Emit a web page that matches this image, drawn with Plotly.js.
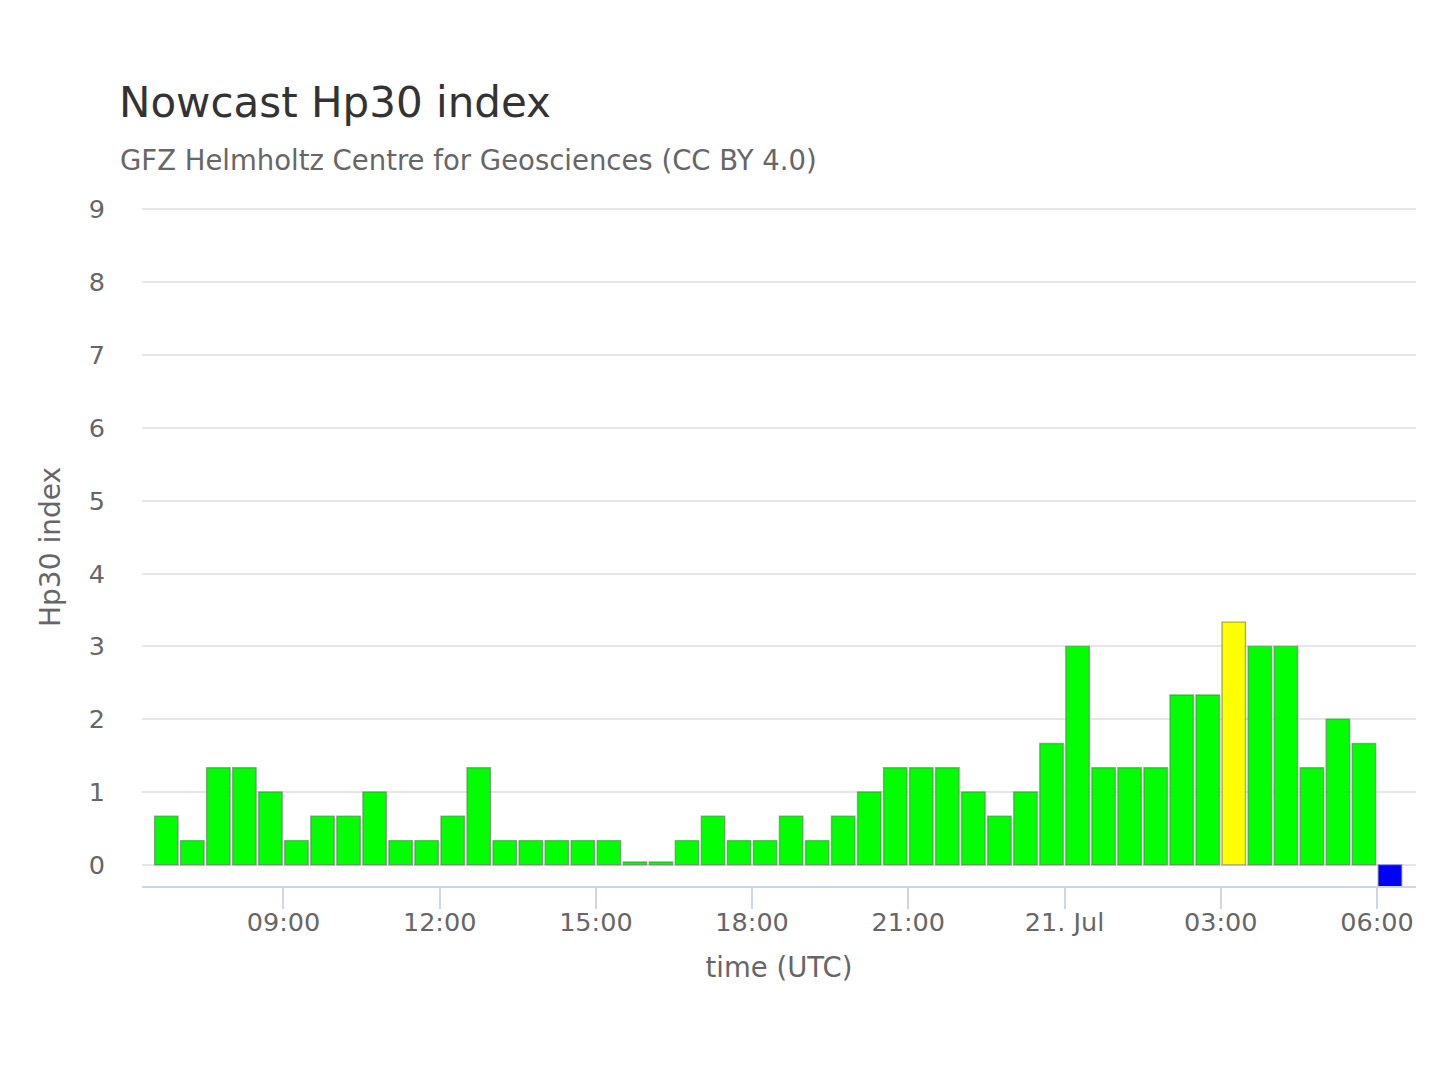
<!DOCTYPE html>
<html>
<head>
<meta charset="utf-8">
<script src="https://cdn.plot.ly/plotly-3.0.1.min.js"></script>
<style>
html,body{margin:0;padding:0;background:#fff}
#chart{width:1440px;height:1080px}
</style>
</head>
<body>
<div id="chart"></div>
<script>
// start of each 30 minute interval (UTC)
let times=[
"2025-07-20 06:30","2025-07-20 07:00","2025-07-20 07:30","2025-07-20 08:00",
"2025-07-20 08:30","2025-07-20 09:00","2025-07-20 09:30","2025-07-20 10:00",
"2025-07-20 10:30","2025-07-20 11:00","2025-07-20 11:30","2025-07-20 12:00",
"2025-07-20 12:30","2025-07-20 13:00","2025-07-20 13:30","2025-07-20 14:00",
"2025-07-20 14:30","2025-07-20 15:00","2025-07-20 15:30","2025-07-20 16:00",
"2025-07-20 16:30","2025-07-20 17:00","2025-07-20 17:30","2025-07-20 18:00",
"2025-07-20 18:30","2025-07-20 19:00","2025-07-20 19:30","2025-07-20 20:00",
"2025-07-20 20:30","2025-07-20 21:00","2025-07-20 21:30","2025-07-20 22:00",
"2025-07-20 22:30","2025-07-20 23:00","2025-07-20 23:30","2025-07-21 00:00",
"2025-07-21 00:30","2025-07-21 01:00","2025-07-21 01:30","2025-07-21 02:00",
"2025-07-21 02:30","2025-07-21 03:00","2025-07-21 03:30","2025-07-21 04:00",
"2025-07-21 04:30","2025-07-21 05:00","2025-07-21 05:30","2025-07-21 06:00"
]

let hp30=[
0.667,0.333,1.333,1.333,1.0,0.333,0.667,0.667,
1.0,0.333,0.333,0.667,1.333,0.333,0.333,0.333,
0.333,0.333,0.04,0.04,0.333,0.667,0.333,0.333,
0.667,0.333,0.667,1.0,1.333,1.333,1.333,1.0,
0.667,1.0,1.667,3.0,1.333,1.333,1.333,2.333,
2.333,3.333,3.0,3.0,1.333,2.0,1.667,-0.3
]

let tickTimes=[
"2025-07-20 09:00","2025-07-20 12:00","2025-07-20 15:00","2025-07-20 18:00",
"2025-07-20 21:00","2025-07-21 00:00","2025-07-21 03:00","2025-07-21 06:00"
]
let tickText=["09:00","12:00","15:00","18:00","21:00","21. Jul","03:00","06:00"]

let yTicks=[0,1,2,3,4,5,6,7,8,9]

function barColor(v){
if(v<0) return "#0000ff"
if(v>=3.33) return "#ffff00"
return "#00ff00"
}

let halfHour=30*60*1000

let font="DejaVu Sans, Verdana, sans-serif"

Plotly.newPlot("chart",[{
type:"bar",
x:times,
y:hp30,
offset:halfHour*0.05,
width:halfHour*0.9,
marker:{
color:hp30.map(barColor),
line:{color:"rgba(110,110,110,0.6)",width:1.4}
},
hoverinfo:"x+y"
}],{
width:1440,
height:1080,
paper_bgcolor:"#ffffff",
plot_bgcolor:"#ffffff",
margin:{l:142,r:24,t:208,b:194},
font:{family:font,color:"#666666"},
showlegend:false,
title:{
text:"Nowcast Hp30 index",
font:{family:font,size:42,color:"#333333"},
xref:"container",yref:"container",
x:119/1440,xanchor:"left",
y:1-102/1080,yanchor:"middle"
},
annotations:[{
text:"GFZ Helmholtz Centre for Geosciences (CC BY 4.0)",
xref:"paper",yref:"paper",
x:-24/1274,xanchor:"left",
y:1+48/678,yanchor:"middle",
showarrow:false,
font:{family:font,size:27.5,color:"#666666"}
}],
xaxis:{
type:"date",
range:["2025-07-20 06:17","2025-07-21 06:45"],
tickvals:tickTimes,
ticktext:tickText,
ticks:"outside",
ticklen:21,
tickwidth:2,
tickcolor:"#ccd6eb",
showline:true,
linecolor:"#ccd6eb",
linewidth:2,
showgrid:false,
zeroline:false,
ticklabelstandoff:-9,
tickfont:{size:25.5,color:"#666666"},
title:{text:"time (UTC)",font:{size:27.5,color:"#666666"},standoff:22}
},
yaxis:{
range:[-0.29,9.02],
tickvals:yTicks,
ticks:"",
showline:false,
showgrid:true,
gridcolor:"#e6e6e6",
gridwidth:2,
zeroline:false,
ticklabelstandoff:36,
tickfont:{size:25.5,color:"#666666"},
title:{text:"Hp30 index",font:{size:28,color:"#666666"},standoff:19}
},
bargap:0
},{displayModeBar:false,staticPlot:true})
</script>
</body>
</html>
